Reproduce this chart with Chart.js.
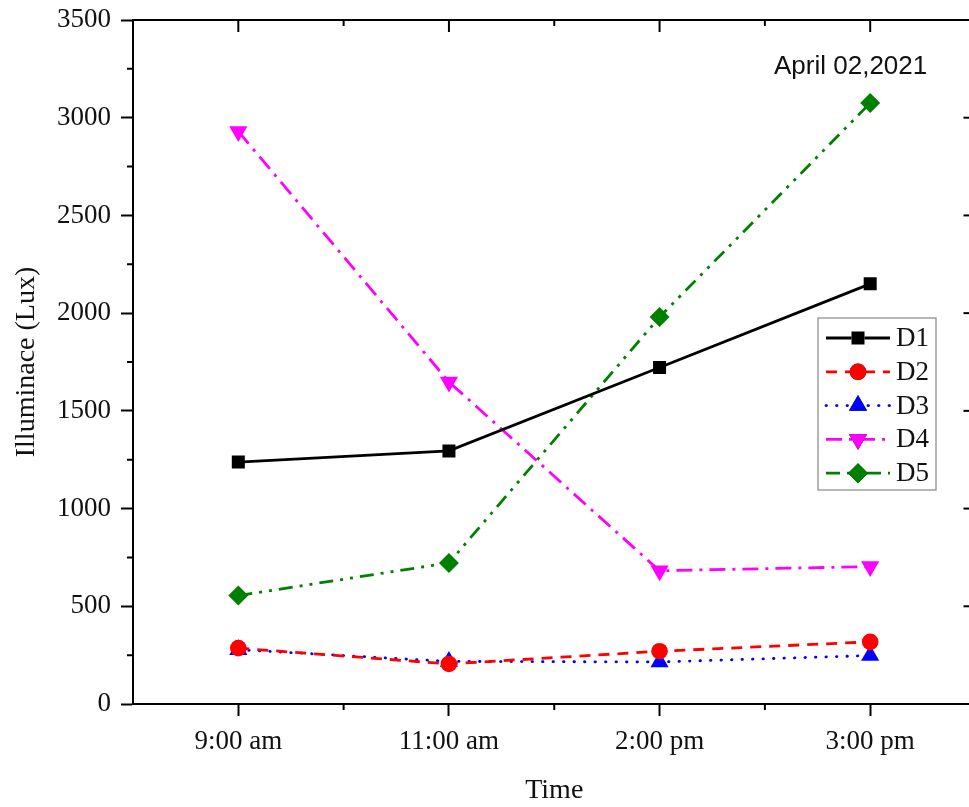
<!DOCTYPE html>
<html lang="en">
<head>
    <meta charset="UTF-8">
    <title>Illuminance</title>
    <script src="https://cdn.jsdelivr.net/npm/chart.js"></script>
    <style>
        html, body {
            margin: 0;
            padding: 0;
            background: white;
            overflow: hidden;
        }
        .chart-wrap {
            position: relative;
            width: 986px;
            height: 807px;
        }
    </style>
</head>
<body>
    <div class="chart-wrap">
        <canvas id="lightChart" width="986" height="807"></canvas>
    </div>

    <script>
        const times = ['9:00 am', '11:00 am', '2:00 pm', '3:00 pm'];
        const d1 = [1238, 1295, 1722, 2150];
        const d2 = [286, 205, 270, 318];
        const d3 = [278, 218, 215, 248];
        const d4 = [2930, 1648, 682, 703];
        const d5 = [555, 722, 1980, 3075];
        const yTicks = [0, 500, 1000, 1500, 2000, 2500, 3000, 3500];
        const dateNote = 'April 02,2021';

        const serif = "'Liberation Serif', 'Times New Roman', serif";

        function series(label, values, color, dash, pointStyle, radius, rotation, cap) {
            return {
                label: label,
                data: values,
                borderColor: color,
                backgroundColor: color,
                borderWidth: 2.8,
                borderDash: dash,
                borderCapStyle: cap || 'butt',
                pointStyle: pointStyle,
                pointRadius: radius,
                pointRotation: rotation || 0,
                pointBorderWidth: 0,
                tension: 0
            };
        }

        // box, minor ticks, date note and legend
        const extras = {
            id: 'extras',
            afterDraw(chart) {
                const ctx = chart.ctx;
                const area = chart.chartArea;
                const xs = chart.scales.x;
                const ys = chart.scales.y;
                ctx.save();
                ctx.strokeStyle = '#000';
                ctx.lineWidth = 2;
                ctx.setLineDash([]);
                ctx.strokeRect(area.left, area.top, area.right - area.left, area.bottom - area.top);

                // y minor ticks (left, outside) and right ticks (inside)
                for (let v = 0; v <= 3500; v += 250) {
                    const y = ys.getPixelForValue(v);
                    const major = v % 500 === 0;
                    ctx.beginPath();
                    if (!major) {
                        ctx.moveTo(area.left - 6, y);
                        ctx.lineTo(area.left, y);
                    }
                    ctx.moveTo(area.right, y);
                    ctx.lineTo(area.right - (major ? 12 : 6), y);
                    ctx.stroke();
                }
                // x minor ticks (bottom, outside) and top ticks (inside)
                for (let i = 0; i < times.length; i++) {
                    const x = xs.getPixelForValue(i);
                    ctx.beginPath();
                    ctx.moveTo(x, area.top);
                    ctx.lineTo(x, area.top + 12);
                    ctx.stroke();
                    if (i < times.length - 1) {
                        const xm = (x + xs.getPixelForValue(i + 1)) / 2;
                        ctx.beginPath();
                        ctx.moveTo(xm, area.bottom);
                        ctx.lineTo(xm, area.bottom + 6);
                        ctx.moveTo(xm, area.top);
                        ctx.lineTo(xm, area.top + 6);
                        ctx.stroke();
                    }
                }

                // date note
                ctx.fillStyle = '#111';
                ctx.font = "26px 'Liberation Sans', Arial, sans-serif";
                ctx.textAlign = 'left';
                ctx.textBaseline = 'middle';
                ctx.fillText(dateNote, 774, 67);

                // legend
                const lx = 818, ly = 318, lw = 118, lh = 172;
                ctx.fillStyle = '#fff';
                ctx.fillRect(lx, ly, lw, lh);
                ctx.strokeStyle = '#888';
                ctx.lineWidth = 1.2;
                ctx.strokeRect(lx, ly, lw, lh);
                chart.data.datasets.forEach((ds, i) => {
                    const y = ly + 20 + i * 33.8;
                    ctx.strokeStyle = ds.borderColor;
                    ctx.lineWidth = ds.borderWidth;
                    ctx.lineCap = ds.borderCapStyle;
                    ctx.setLineDash(ds.borderDash || []);
                    ctx.beginPath();
                    ctx.moveTo(lx + 8, y);
                    ctx.lineTo(lx + 72, y);
                    ctx.stroke();
                    ctx.setLineDash([]);
                    ctx.lineCap = 'butt';
                    Chart.helpers.drawPoint(ctx, {
                        pointStyle: ds.pointStyle,
                        radius: ds.pointRadius,
                        rotation: ds.pointRotation,
                        borderWidth: 0
                    }, lx + 40, y);
                    ctx.fillStyle = ds.borderColor;
                    ctx.fill();
                    ctx.fillStyle = '#111';
                    ctx.font = '27px ' + serif;
                    ctx.textAlign = 'left';
                    ctx.fillText(ds.label, lx + 78, y + 1);
                });
                ctx.restore();
            }
        };

        new Chart(document.getElementById('lightChart').getContext('2d'), {
            type: 'line',
            data: {
                labels: times,
                datasets: [
                    series('D1', d1, '#000000', [], 'rect', 9.2),
                    series('D2', d2, '#ff0000', [11, 8], 'circle', 8.3),
                    series('D3', d3, '#0000ff', [0.5, 10], 'triangle', 10.5, 0, 'round'),
                    series('D4', d4, '#ff00ff', [16, 7, 3, 7], 'triangle', 10.5, 180),
                    series('D5', d5, '#008000', [14, 7, 3, 7, 3, 7], 'rectRot', 10)
                ]
            },
            options: {
                responsive: false,
                animation: false,
                layout: { padding: { left: 0, top: 20, right: 6, bottom: 0 } },
                plugins: {
                    legend: { display: false },
                    tooltip: { enabled: false }
                },
                scales: {
                    x: {
                        type: 'category',
                        offset: true,
                        grid: { display: true, drawOnChartArea: false, tickLength: 12, tickColor: '#000', tickWidth: 2 },
                        border: { color: '#000', width: 2 },
                        ticks: { color: '#111', font: { family: serif, size: 27 }, padding: 10, maxRotation: 0 },
                        title: { display: true, text: 'Time', color: '#111', font: { family: serif, size: 28 }, padding: { top: 6, bottom: 0 } },
                        afterFit: scale => {
                            scale.height = 103;
                            scale.paddingLeft = 0;
                            scale.paddingRight = 0;
                        }
                    },
                    y: {
                        min: 0,
                        max: 3500,
                        afterBuildTicks: scale => { scale.ticks = yTicks.map(v => ({ value: v })); },
                        grid: { display: true, drawOnChartArea: false, tickLength: 12, tickColor: '#000', tickWidth: 2 },
                        border: { color: '#000', width: 2 },
                        ticks: { color: '#111', font: { family: serif, size: 27 }, padding: 10, callback: v => String(v) },
                        title: { display: true, text: 'Illuminace (Lux)', color: '#111', font: { family: serif, size: 28 }, padding: { top: 10, bottom: 8 } },
                        afterFit: scale => {
                            scale.width = 133;
                            scale.paddingTop = 0;
                            scale.paddingBottom = 0;
                        }
                    }
                }
            },
            plugins: [extras]
        });
    </script>
</body>
</html>
